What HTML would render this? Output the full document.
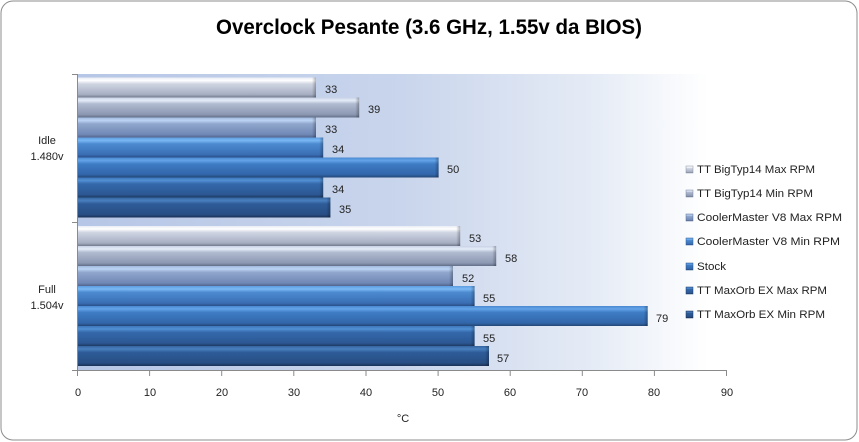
<!DOCTYPE html>
<html><head><meta charset="utf-8"><style>
html,body{margin:0;padding:0;background:#fff;}
svg{display:block;}
text{font-family:"Liberation Sans",sans-serif;}
</style></head><body>
<svg width="859" height="442" viewBox="0 0 859 442" xmlns="http://www.w3.org/2000/svg">
<defs>
<linearGradient id="bg" x1="78" y1="0" x2="727" y2="0" gradientUnits="userSpaceOnUse">
<stop offset="0" stop-color="#b6c6e6"/><stop offset="0.5" stop-color="#c9d5ec"/><stop offset="0.8" stop-color="#e6ecf6"/><stop offset="0.97" stop-color="#ffffff"/><stop offset="1" stop-color="#ffffff"/>
</linearGradient>
<linearGradient id="g1" x1="0" y1="0" x2="0" y2="1"><stop offset="0" stop-color="#e8ecf4"/><stop offset="0.15" stop-color="#ffffff"/><stop offset="0.32" stop-color="#cfd5e2"/><stop offset="0.85" stop-color="#a6aec2"/><stop offset="1" stop-color="#737b8e"/></linearGradient>
<linearGradient id="g2" x1="0" y1="0" x2="0" y2="1"><stop offset="0" stop-color="#c8d2e6"/><stop offset="0.15" stop-color="#e4ecf8"/><stop offset="0.32" stop-color="#b0bad0"/><stop offset="0.85" stop-color="#8c98b2"/><stop offset="1" stop-color="#626e88"/></linearGradient>
<linearGradient id="g3" x1="0" y1="0" x2="0" y2="1"><stop offset="0" stop-color="#a0b8dc"/><stop offset="0.15" stop-color="#bcd4f4"/><stop offset="0.32" stop-color="#90a6cc"/><stop offset="0.85" stop-color="#7088b6"/><stop offset="1" stop-color="#52648a"/></linearGradient>
<linearGradient id="g4" x1="0" y1="0" x2="0" y2="1"><stop offset="0" stop-color="#5c9ce0"/><stop offset="0.15" stop-color="#7ab8f4"/><stop offset="0.32" stop-color="#4c8ad0"/><stop offset="0.85" stop-color="#3a6eb4"/><stop offset="1" stop-color="#2a4e86"/></linearGradient>
<linearGradient id="g5" x1="0" y1="0" x2="0" y2="1"><stop offset="0" stop-color="#4a88d0"/><stop offset="0.15" stop-color="#64a4e8"/><stop offset="0.32" stop-color="#3e7cc4"/><stop offset="0.85" stop-color="#3266aa"/><stop offset="1" stop-color="#244676"/></linearGradient>
<linearGradient id="g6" x1="0" y1="0" x2="0" y2="1"><stop offset="0" stop-color="#3c74b8"/><stop offset="0.15" stop-color="#5290d4"/><stop offset="0.32" stop-color="#3468aa"/><stop offset="0.85" stop-color="#2c5894"/><stop offset="1" stop-color="#1e3a62"/></linearGradient>
<linearGradient id="g7" x1="0" y1="0" x2="0" y2="1"><stop offset="0" stop-color="#34649e"/><stop offset="0.15" stop-color="#4a80c0"/><stop offset="0.32" stop-color="#2e5c98"/><stop offset="0.85" stop-color="#284e84"/><stop offset="1" stop-color="#1a3054"/></linearGradient>
<linearGradient id="cap" x1="0" y1="0" x2="1" y2="0"><stop offset="0" stop-color="#000" stop-opacity="0"/><stop offset="1" stop-color="#000" stop-opacity="0.28"/></linearGradient>
</defs>

<rect x="1" y="1" width="856" height="439" rx="12" ry="12" fill="#ffffff" stroke="#8c8c8c" stroke-width="1"/>

<text x="429" y="34" font-size="21" font-weight="bold" text-anchor="middle" fill="#000" textLength="426" lengthAdjust="spacingAndGlyphs">Overclock Pesante (3.6 GHz, 1.55v da BIOS)</text>

<rect x="78" y="74" width="649" height="297" fill="url(#bg)"/>

<!-- Idle bars -->
<g>
<rect x="78" y="77.5" width="238" height="20" fill="url(#g1)"/><rect x="312" y="77.5" width="4" height="20" fill="url(#cap)"/>
<rect x="78" y="97.5" width="281.2" height="20" fill="url(#g2)"/><rect x="355.2" y="97.5" width="4" height="20" fill="url(#cap)"/>
<rect x="78" y="117.5" width="238" height="20" fill="url(#g3)"/><rect x="312" y="117.5" width="4" height="20" fill="url(#cap)"/>
<rect x="78" y="137.5" width="245.2" height="20" fill="url(#g4)"/><rect x="319.2" y="137.5" width="4" height="20" fill="url(#cap)"/>
<rect x="78" y="157.5" width="360.6" height="20" fill="url(#g5)"/><rect x="434.6" y="157.5" width="4" height="20" fill="url(#cap)"/>
<rect x="78" y="177.5" width="245.2" height="20" fill="url(#g6)"/><rect x="319.2" y="177.5" width="4" height="20" fill="url(#cap)"/>
<rect x="78" y="197.5" width="252.4" height="20" fill="url(#g7)"/><rect x="326.4" y="197.5" width="4" height="20" fill="url(#cap)"/>
</g>
<!-- Full bars -->
<g>
<rect x="78" y="226" width="382.2" height="20" fill="url(#g1)"/><rect x="456.2" y="226" width="4" height="20" fill="url(#cap)"/>
<rect x="78" y="246" width="418.2" height="20" fill="url(#g2)"/><rect x="492.2" y="246" width="4" height="20" fill="url(#cap)"/>
<rect x="78" y="266" width="375" height="20" fill="url(#g3)"/><rect x="449" y="266" width="4" height="20" fill="url(#cap)"/>
<rect x="78" y="286" width="396.6" height="20" fill="url(#g4)"/><rect x="470.6" y="286" width="4" height="20" fill="url(#cap)"/>
<rect x="78" y="306" width="569.7" height="20" fill="url(#g5)"/><rect x="643.7" y="306" width="4" height="20" fill="url(#cap)"/>
<rect x="78" y="326" width="396.6" height="20" fill="url(#g6)"/><rect x="470.6" y="326" width="4" height="20" fill="url(#cap)"/>
<rect x="78" y="346" width="411" height="20" fill="url(#g7)"/><rect x="485" y="346" width="4" height="20" fill="url(#cap)"/>
</g>

<!-- axes -->
<g stroke="#8a8a8a" stroke-width="1" fill="none">
<line x1="77.5" y1="74" x2="77.5" y2="371"/>
<line x1="77.5" y1="370.5" x2="727" y2="370.5"/>
<line x1="72" y1="74.5" x2="78" y2="74.5"/>
<line x1="72" y1="222.5" x2="78" y2="222.5"/>
<line x1="72" y1="370.5" x2="78" y2="370.5"/>
<line x1="77.5" y1="371" x2="77.5" y2="376"/>
<line x1="149.6" y1="371" x2="149.6" y2="376"/>
<line x1="221.7" y1="371" x2="221.7" y2="376"/>
<line x1="293.8" y1="371" x2="293.8" y2="376"/>
<line x1="366" y1="371" x2="366" y2="376"/>
<line x1="438.1" y1="371" x2="438.1" y2="376"/>
<line x1="510.2" y1="371" x2="510.2" y2="376"/>
<line x1="582.3" y1="371" x2="582.3" y2="376"/>
<line x1="654.4" y1="371" x2="654.4" y2="376"/>
<line x1="726.5" y1="371" x2="726.5" y2="376"/>
</g>

<!-- value labels -->
<g font-size="11" fill="#222">
<text x="325" y="93">33</text>
<text x="368" y="113">39</text>
<text x="325" y="133">33</text>
<text x="332" y="153">34</text>
<text x="447" y="173">50</text>
<text x="332" y="193">34</text>
<text x="339" y="213">35</text>
<text x="469" y="242">53</text>
<text x="505" y="262">58</text>
<text x="462" y="282">52</text>
<text x="483" y="302">55</text>
<text x="656" y="322">79</text>
<text x="483" y="342">55</text>
<text x="497" y="362">57</text>
</g>

<!-- tick labels -->
<g font-size="11" fill="#222" text-anchor="middle">
<text x="78" y="396">0</text>
<text x="150" y="396">10</text>
<text x="222" y="396">20</text>
<text x="294" y="396">30</text>
<text x="366" y="396">40</text>
<text x="438" y="396">50</text>
<text x="510" y="396">60</text>
<text x="582" y="396">70</text>
<text x="654" y="396">80</text>
<text x="727" y="396">90</text>
<text x="403" y="422">°C</text>
<text x="47" y="144">Idle</text>
<text x="47" y="160">1.480v</text>
<text x="47" y="293">Full</text>
<text x="47" y="309">1.504v</text>
</g>

<!-- legend -->
<g font-size="11" fill="#222">
<rect x="686" y="166" width="7" height="7" fill="url(#g1)" stroke="#8a92a4" stroke-width="0.5"/>
<text x="697" y="173" textLength="118" lengthAdjust="spacingAndGlyphs">TT BigTyp14  Max RPM</text>
<rect x="686" y="190" width="7" height="7" fill="url(#g2)" stroke="#7a86a0" stroke-width="0.5"/>
<text x="697" y="197" textLength="116" lengthAdjust="spacingAndGlyphs">TT BigTyp14  Min RPM</text>
<rect x="686" y="214" width="7" height="7" fill="url(#g3)" stroke="#5c6e96" stroke-width="0.5"/>
<text x="697" y="221" textLength="145" lengthAdjust="spacingAndGlyphs">CoolerMaster V8  Max RPM</text>
<rect x="686" y="238" width="7" height="7" fill="url(#g4)" stroke="#2e5a96" stroke-width="0.5"/>
<text x="697" y="245" textLength="143" lengthAdjust="spacingAndGlyphs">CoolerMaster V8  Min RPM</text>
<rect x="686" y="263" width="7" height="7" fill="url(#g5)" stroke="#28508a" stroke-width="0.5"/>
<text x="697" y="270" textLength="29" lengthAdjust="spacingAndGlyphs">Stock</text>
<rect x="686" y="287" width="7" height="7" fill="url(#g6)" stroke="#20406e" stroke-width="0.5"/>
<text x="697" y="294" textLength="130" lengthAdjust="spacingAndGlyphs">TT MaxOrb EX  Max RPM</text>
<rect x="686" y="311" width="7" height="7" fill="url(#g7)" stroke="#1a3258" stroke-width="0.5"/>
<text x="697" y="318" textLength="128" lengthAdjust="spacingAndGlyphs">TT MaxOrb EX  Min RPM</text>
</g>
</svg>
</body></html>
